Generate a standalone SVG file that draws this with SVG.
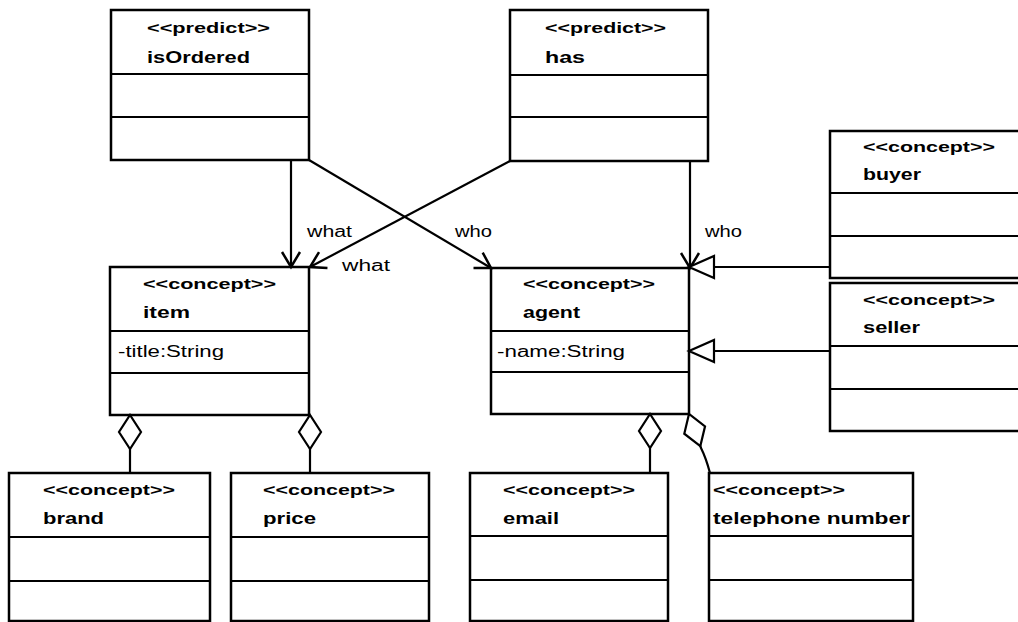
<svg xmlns="http://www.w3.org/2000/svg" width="1018" height="622" viewBox="0 0 1018 622">
<style>
.box{fill:#fff;stroke:#000;stroke-width:2.5}
.dv{stroke:#000;stroke-width:2}
.st{font-family:"Liberation Sans",Arial,sans-serif;font-weight:bold;font-size:15px;fill:#000}
.nm{font-family:"Liberation Sans",Arial,sans-serif;font-weight:bold;font-size:17px;fill:#000}
.at{font-family:"Liberation Sans",Arial,sans-serif;font-size:16px;fill:#000}
.lb{font-family:"Liberation Sans",Arial,sans-serif;font-size:16px;fill:#000}
.ln{fill:none;stroke:#000;stroke-width:2.2}
</style>
<defs>
<marker id="open" markerUnits="userSpaceOnUse" markerWidth="20" markerHeight="22" refX="17" refY="11" orient="auto">
<path d="M2,2 L17,11 L2,20" fill="none" stroke="#000" stroke-width="2.5"/>
</marker>
<marker id="tri" markerUnits="userSpaceOnUse" markerWidth="30" markerHeight="26" refX="27" refY="13" orient="auto">
<path d="M2,2 L27,13 L2,24 Z" fill="#fff" stroke="#000" stroke-width="2.2"/>
</marker>
<marker id="dia" markerUnits="userSpaceOnUse" markerWidth="38" markerHeight="26" refX="36" refY="13" orient="auto">
<path d="M2,13 L19,2 L36,13 L19,24 Z" fill="#fff" stroke="#000" stroke-width="2.2"/>
</marker>
</defs>
<rect width="1018" height="622" fill="#fff"/>

<g id="isOrdered">
<rect class="box" x="111" y="10" width="198" height="150"/>
<line class="dv" x1="111" y1="74" x2="309" y2="74"/>
<line class="dv" x1="111" y1="117" x2="309" y2="117"/>
<text class="st" x="147" y="33" textLength="123" lengthAdjust="spacingAndGlyphs">&lt;&lt;predict&gt;&gt;</text>
<text class="nm" x="147" y="63" textLength="103" lengthAdjust="spacingAndGlyphs">isOrdered</text>
</g>

<g id="has">
<rect class="box" x="510" y="10" width="198" height="151"/>
<line class="dv" x1="510" y1="75" x2="708" y2="75"/>
<line class="dv" x1="510" y1="117" x2="708" y2="117"/>
<text class="st" x="545" y="33" textLength="121" lengthAdjust="spacingAndGlyphs">&lt;&lt;predict&gt;&gt;</text>
<text class="nm" x="545" y="63" textLength="40" lengthAdjust="spacingAndGlyphs">has</text>
</g>

<g id="item">
<rect class="box" x="110" y="267" width="199" height="148"/>
<line class="dv" x1="110" y1="331" x2="309" y2="331"/>
<line class="dv" x1="110" y1="373" x2="309" y2="373"/>
<text class="st" x="143" y="289" textLength="133" lengthAdjust="spacingAndGlyphs">&lt;&lt;concept&gt;&gt;</text>
<text class="nm" x="143" y="318" textLength="47" lengthAdjust="spacingAndGlyphs">item</text>
<text class="at" x="118" y="357" textLength="106" lengthAdjust="spacingAndGlyphs">-title:String</text>
</g>

<g id="agent">
<rect class="box" x="491" y="268" width="198" height="146"/>
<line class="dv" x1="491" y1="331" x2="689" y2="331"/>
<line class="dv" x1="491" y1="372" x2="689" y2="372"/>
<text class="st" x="523" y="289" textLength="132" lengthAdjust="spacingAndGlyphs">&lt;&lt;concept&gt;&gt;</text>
<text class="nm" x="523" y="318" textLength="57" lengthAdjust="spacingAndGlyphs">agent</text>
<text class="at" x="497" y="357" textLength="128" lengthAdjust="spacingAndGlyphs">-name:String</text>
</g>

<g id="buyer">
<rect class="box" x="830" y="131" width="200" height="147"/>
<line class="dv" x1="830" y1="193" x2="1030" y2="193"/>
<line class="dv" x1="830" y1="236" x2="1030" y2="236"/>
<text class="st" x="863" y="152" textLength="132" lengthAdjust="spacingAndGlyphs">&lt;&lt;concept&gt;&gt;</text>
<text class="nm" x="863" y="180" textLength="58" lengthAdjust="spacingAndGlyphs">buyer</text>
</g>

<g id="seller">
<rect class="box" x="830" y="283" width="200" height="148"/>
<line class="dv" x1="830" y1="346" x2="1030" y2="346"/>
<line class="dv" x1="830" y1="389" x2="1030" y2="389"/>
<text class="st" x="863" y="305" textLength="132" lengthAdjust="spacingAndGlyphs">&lt;&lt;concept&gt;&gt;</text>
<text class="nm" x="863" y="333" textLength="57" lengthAdjust="spacingAndGlyphs">seller</text>
</g>

<g id="brand">
<rect class="box" x="9" y="473" width="201" height="148"/>
<line class="dv" x1="9" y1="537" x2="210" y2="537"/>
<line class="dv" x1="9" y1="581" x2="210" y2="581"/>
<text class="st" x="43" y="495" textLength="132" lengthAdjust="spacingAndGlyphs">&lt;&lt;concept&gt;&gt;</text>
<text class="nm" x="43" y="524" textLength="61" lengthAdjust="spacingAndGlyphs">brand</text>
</g>

<g id="price">
<rect class="box" x="231" y="473" width="198" height="148"/>
<line class="dv" x1="231" y1="537" x2="429" y2="537"/>
<line class="dv" x1="231" y1="581" x2="429" y2="581"/>
<text class="st" x="263" y="495" textLength="132" lengthAdjust="spacingAndGlyphs">&lt;&lt;concept&gt;&gt;</text>
<text class="nm" x="263" y="524" textLength="53" lengthAdjust="spacingAndGlyphs">price</text>
</g>

<g id="email">
<rect class="box" x="470" y="473" width="198" height="148"/>
<line class="dv" x1="470" y1="536" x2="668" y2="536"/>
<line class="dv" x1="470" y1="580" x2="668" y2="580"/>
<text class="st" x="503" y="495" textLength="132" lengthAdjust="spacingAndGlyphs">&lt;&lt;concept&gt;&gt;</text>
<text class="nm" x="503" y="524" textLength="56" lengthAdjust="spacingAndGlyphs">email</text>
</g>

<g id="telephone">
<rect class="box" x="709" y="473" width="204" height="148"/>
<line class="dv" x1="709" y1="536" x2="913" y2="536"/>
<line class="dv" x1="709" y1="580" x2="913" y2="580"/>
<text class="st" x="713" y="495" textLength="132" lengthAdjust="spacingAndGlyphs">&lt;&lt;concept&gt;&gt;</text>
<text class="nm" x="713" y="524" textLength="197" lengthAdjust="spacingAndGlyphs">telephone number</text>
</g>

<g id="connectors">
<line class="ln" x1="291" y1="160" x2="291" y2="267" marker-end="url(#open)"/>
<line class="ln" x1="309" y1="160" x2="491" y2="268" marker-end="url(#open)"/>
<line class="ln" x1="510" y1="161" x2="310" y2="267" marker-end="url(#open)"/>
<line class="ln" x1="690" y1="161" x2="690" y2="268" marker-end="url(#open)"/>
<line class="ln" x1="830" y1="267" x2="689" y2="267" marker-end="url(#tri)"/>
<line class="ln" x1="830" y1="351" x2="689" y2="351" marker-end="url(#tri)"/>
<line class="ln" x1="130" y1="473" x2="130" y2="415" marker-end="url(#dia)"/>
<line class="ln" x1="310" y1="473" x2="310" y2="415" marker-end="url(#dia)"/>
<line class="ln" x1="650" y1="473" x2="650" y2="414" marker-end="url(#dia)"/>
<path class="ln" d="M710,473 Q706,458 701,448 L689,414" marker-end="url(#dia)"/>
<text class="lb" x="307" y="237" textLength="45" lengthAdjust="spacingAndGlyphs">what</text>
<text class="lb" x="342" y="271" textLength="48" lengthAdjust="spacingAndGlyphs">what</text>
<text class="lb" x="455" y="237" textLength="37" lengthAdjust="spacingAndGlyphs">who</text>
<text class="lb" x="705" y="237" textLength="37" lengthAdjust="spacingAndGlyphs">who</text>
</g>
</svg>
